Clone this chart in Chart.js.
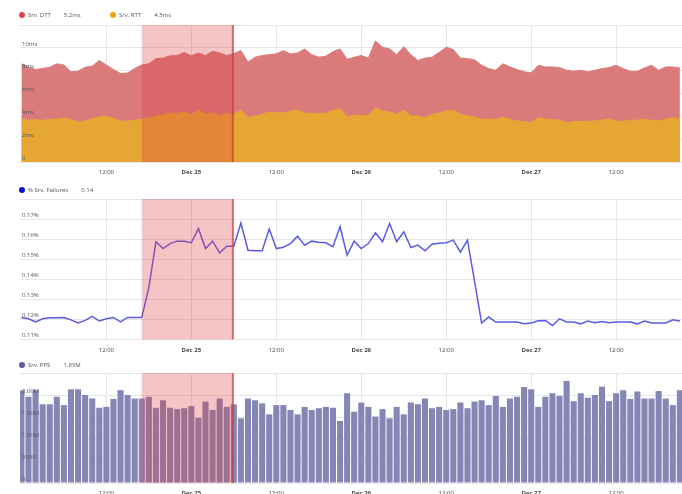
<!DOCTYPE html>
<html><head><meta charset="utf-8">
<script src="https://cdn.jsdelivr.net/npm/chart.js@4.4.1/dist/chart.umd.min.js"></script>
<style>
html,body{margin:0;padding:0;background:#fff;overflow:hidden;width:682px;height:494px}
.p{position:absolute;left:0;width:682px}
</style></head><body>
<div class="p" style="top:0;height:180px"><canvas id="c1"></canvas></div>
<div class="p" style="top:180px;height:175px"><canvas id="c2"></canvas></div>
<div class="p" style="top:355px;height:145px"><canvas id="c3"></canvas></div>
<script>
// hours since Dec 24 00:00
const hours = [0,1,2,3,4,5,6,7,8,9,10,11,12,13,14,15,16,17,18,19,20,21,22,23,24,25,26,27,28,29,30,31,32,33,34,35,36,37,38,39,40,41,42,43,44,45,46,47,48,49,50,51,52,53,54,55,56,57,58,59,60,61,62,63,64,65,66,67,68,69,70,71,72,73,74,75,76,77,78,79,80,81,82,83,84,85,86,87,88,89,90,91,92,93];
const tickHours = [12,24,36,48,60,72,84];
const tickLabels = ['12:00','Dec 25','12:00','Dec 26','12:00','Dec 27','12:00'];
const bandStart = 17, bandEnd = 30;

const dttMs = [8.6,8.3,8.1,8.2,8.3,8.6,8.5,7.9,7.95,8.3,8.4,8.9,8.5,8.1,7.75,7.8,8.2,8.5,8.6,9.05,9.1,9.3,9.33,9.6,9.3,9.55,9.33,9.7,9.55,9.33,9.5,9.76,8.75,9.18,9.33,9.4,9.47,9.76,9.47,9.55,9.9,9.4,9.18,9.27,9.67,9.9,9.0,9.18,9.33,9.1,10.6,10.05,9.9,9.4,10.1,9.4,8.9,9.1,9.18,9.6,10.05,9.85,9.12,9.05,8.95,8.47,8.18,8.04,8.6,8.33,8.1,7.9,7.8,8.47,8.33,8.33,8.27,8.04,7.95,8.04,7.9,8.04,8.18,8.27,8.47,8.18,7.95,7.95,8.24,8.47,8.04,8.33,8.33,8.24];
const rttMs = [3.75,3.66,3.72,3.63,3.75,3.75,3.83,3.72,3.5,3.6,3.78,3.95,4.0,3.83,3.6,3.58,3.66,3.75,3.83,4.03,4.12,4.3,4.24,4.38,4.18,4.52,4.18,4.32,4.03,4.24,4.18,4.55,3.9,4.03,4.18,4.38,4.32,4.3,4.44,4.55,4.3,4.24,4.24,4.27,4.52,4.7,3.95,4.12,4.03,4.12,4.75,4.46,4.38,4.18,4.55,4.03,4.03,3.9,4.18,4.3,4.46,4.55,4.18,4.03,3.95,3.75,3.75,3.75,3.9,3.75,3.6,3.55,3.46,3.9,3.75,3.72,3.66,3.44,3.55,3.55,3.55,3.6,3.66,3.75,3.6,3.55,3.66,3.66,3.75,3.66,3.6,3.75,3.9,3.75];
const failPct = [0.121,0.1203,0.1187,0.1203,0.1208,0.1208,0.121,0.1198,0.1183,0.1195,0.1215,0.1192,0.1203,0.121,0.1188,0.121,0.121,0.121,0.136,0.1587,0.1553,0.1578,0.159,0.159,0.1582,0.1653,0.1553,0.159,0.1532,0.1565,0.1565,0.168,0.1545,0.1542,0.1542,0.165,0.1553,0.156,0.1578,0.1615,0.157,0.159,0.1585,0.1582,0.1562,0.1662,0.152,0.159,0.1553,0.1578,0.1632,0.1587,0.1678,0.1587,0.1637,0.1558,0.157,0.1542,0.1575,0.158,0.1582,0.1595,0.1535,0.1595,0.139,0.1182,0.1212,0.1187,0.1187,0.1187,0.1187,0.1178,0.1182,0.1193,0.1195,0.117,0.1203,0.1187,0.1187,0.1178,0.1192,0.1183,0.119,0.1183,0.1187,0.1187,0.1187,0.1178,0.1192,0.1182,0.1182,0.1182,0.1198,0.1192];
const ppsM = [2.11,1.96,2.11,1.79,1.79,1.96,1.77,2.13,2.13,2.0,1.92,1.71,1.73,1.91,2.11,2.0,1.92,1.92,1.96,1.71,1.88,1.71,1.68,1.70,1.75,1.48,1.85,1.66,1.92,1.73,1.79,1.47,1.92,1.88,1.81,1.56,1.77,1.77,1.66,1.56,1.73,1.66,1.70,1.73,1.71,1.41,2.04,1.62,1.83,1.73,1.51,1.68,1.47,1.73,1.56,1.83,1.79,1.92,1.70,1.73,1.66,1.68,1.83,1.70,1.85,1.88,1.77,1.98,1.73,1.92,1.96,2.18,2.13,1.73,1.96,2.04,1.98,2.32,1.86,2.04,1.94,2.0,2.19,1.86,2.04,2.11,1.91,2.08,1.92,1.92,2.09,1.92,1.77,2.11];

const FONT = "'Open Sans', 'DejaVu Sans', sans-serif";
const GRID = '#e6e6e6';

const bandPlugin = {
  id: 'band',
  afterDatasetsDraw(chart) {
    const {ctx, chartArea: a, scales: {x}} = chart;
    const x0 = x.getPixelForValue(bandStart), x1 = x.getPixelForValue(bandEnd);
    ctx.save();
    ctx.fillStyle = 'rgba(222,62,62,0.30)';
    ctx.fillRect(x0, a.top, x1 - x0, a.bottom - a.top);
    ctx.fillStyle = 'rgba(205,55,55,0.65)';
    ctx.fillRect(x1 - 2, a.top, 2, a.bottom - a.top);
    ctx.restore();
  }
};

const legendPlugin = {
  id: 'miniLegend',
  afterDraw(chart, args, opts) {
    const ctx = chart.ctx;
    ctx.save();
    ctx.font = '6px ' + FONT;
    ctx.textBaseline = 'middle';
    let x = opts.x;
    opts.items.forEach(it => {
      ctx.fillStyle = it.color;
      ctx.beginPath(); ctx.arc(x, opts.y, 3, 0, Math.PI * 2); ctx.fill();
      ctx.fillStyle = '#555';
      ctx.fillText(it.label, x + 6, opts.y);
      const w = ctx.measureText(it.label).width;
      ctx.fillText(it.value, x + 6 + w + 13, opts.y);
      x += it.step || 0;
    });
    ctx.restore();
  }
};

function xScale(h) {
  return {
    type: 'linear', min: -0.2, max: 93.3, offset: false,
    afterBuildTicks: s => { s.ticks = tickHours.map(v => ({value: v})); },
    afterFit: s => { s.height = h; },
    grid: {color: GRID, drawTicks: false, offset: false},
    border: {color: GRID},
    ticks: {
      autoSkip: false, maxRotation: 0, padding: 7, color: '#444',
      font: c => ({family: FONT, size: 6, weight: (c.tick && c.tick.value % 24 === 0) ? 'bold' : 'normal'}),
      callback: v => tickLabels[tickHours.indexOf(v)]
    }
  };
}
// grid under the data, tick labels drawn above the data (ticks.z = 1)
function yScale(min, max, step, fmt) {
  return {
    min, max, position: 'left',
    afterFit: s => { s.width = 0; },
    grid: {color: GRID, drawTicks: false, z: -1},
    border: {display: false},
    ticks: {z: 1, mirror: true, padding: 2, stepSize: step, labelOffset: -4, color: '#555',
      font: {family: FONT, size: 6}, callback: fmt}
  };
}
const base = {
  responsive: true, maintainAspectRatio: false, animation: false,
  plugins: {legend: {display: false}, tooltip: {enabled: false}}
};

new Chart(document.getElementById('c1'), {
  type: 'line',
  data: {labels: hours, datasets: [
    {label: 'Srv. DTT', data: dttMs, order: 1, fill: 'origin', backgroundColor: 'rgb(218,122,122)', borderColor: 'rgb(218,122,122)', borderWidth: 1, pointRadius: 0, tension: 0},
    {label: 'Srv. RTT', data: rttMs, order: 0, fill: 'origin', backgroundColor: 'rgb(230,166,52)', borderColor: 'rgb(230,166,52)', borderWidth: 1, pointRadius: 0, tension: 0}
  ]},
  options: Object.assign({}, base, {
    layout: {padding: {top: 25, left: 20, right: 0, bottom: 0}},
    scales: {x: xScale(18), y: yScale(0, 12, 2, v => v >= 12 ? '' : (v === 0 ? '0' : v + 'ms'))},
    plugins: Object.assign({}, base.plugins, {miniLegend: {x: 22, y: 15, items: [
      {color: '#e0434f', label: 'Srv. DTT', value: '5.2ms', step: 91},
      {color: '#f0a30a', label: 'Srv. RTT', value: '4.5ms'}
    ]}})
  }),
  plugins: [bandPlugin, legendPlugin]
});

new Chart(document.getElementById('c2'), {
  type: 'line',
  data: {labels: hours, datasets: [
    {label: '% Srv. Failures', data: failPct, borderColor: '#5a5ae6', borderWidth: 1.5, pointRadius: 0, tension: 0, fill: false}
  ]},
  options: Object.assign({}, base, {
    layout: {padding: {top: 19, left: 20, right: 0, bottom: 0}},
    scales: {x: xScale(15.5), y: yScale(0.11, 0.18, 0.01, v => v > 0.1795 ? '' : v.toFixed(2) + '%')},
    plugins: Object.assign({}, base.plugins, {miniLegend: {x: 22, y: 10, items: [
      {color: '#1010d0', label: '% Srv. Failures', value: '0.14'}
    ]}})
  }),
  plugins: [bandPlugin, legendPlugin]
});

new Chart(document.getElementById('c3'), {
  type: 'bar',
  data: {labels: hours, datasets: [
    {label: 'Srv. PPS', data: ppsM, backgroundColor: 'rgb(134,134,182)', categoryPercentage: 1, barPercentage: 0.86}
  ]},
  options: Object.assign({}, base, {
    layout: {padding: {top: 18, left: 20, right: 0, bottom: 0}},
    scales: {x: xScale(17), y: yScale(0, 2.5, 0.5, v => v >= 2.5 ? '' : (v === 0 ? '0' : (v < 1 ? Math.round(v * 1000) + 'K' : v.toFixed(2) + 'M')))},
    plugins: Object.assign({}, base.plugins, {miniLegend: {x: 22, y: 10, items: [
      {color: '#5b5b9e', label: 'Srv. PPS', value: '1.83M'}
    ]}})
  }),
  plugins: [bandPlugin, legendPlugin]
});
</script>
</body></html>
